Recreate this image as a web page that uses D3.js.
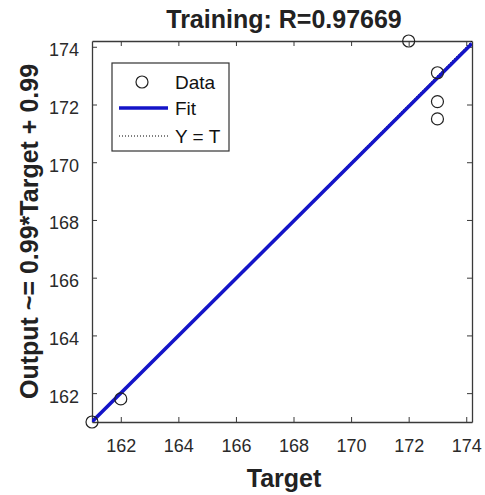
<!DOCTYPE html>
<html><head><meta charset="utf-8">
<script src="https://cdn.jsdelivr.net/npm/d3@7"></script>
<style>body{margin:0;background:#fff}svg{display:block}</style>
</head><body>
<script>
const targets = [161, 162, 172, 173, 173, 173];
const outputs = [161, 161.8, 174.2, 173.1, 172.1, 171.5];
const tickValues = [162, 164, 166, 168, 170, 172, 174];
const domainLim = [161, 174.2];
const titleText = "Training: R=0.97669";
const xLabel = "Target";
const yLabel = "Output ~= 0.99*Target + 0.99";
const legendItems = ["Data", "Fit", "Y = T"];

// least squares fit
const mx = d3.mean(targets), my = d3.mean(outputs);
const sxy = d3.sum(targets.map((t,i)=>(t-mx)*(outputs[i]-my)));
const sxx = d3.sum(targets.map(t=>(t-mx)*(t-mx)));
const slope = sxy/sxx, intercept = my - slope*mx;

const W=485,H=495;
const m={l:92,r:13,t:41,b:73};
const svg=d3.select("body").append("svg").attr("width",W).attr("height",H);
const x=d3.scaleLinear().domain(domainLim).range([m.l,W-m.r]);
const y=d3.scaleLinear().domain(domainLim).range([H-m.b,m.t]);
const font="Liberation Sans, Arial, sans-serif";

svg.append("defs").append("clipPath").attr("id","clip").append("rect")
  .attr("x",m.l).attr("y",m.t).attr("width",W-m.l-m.r).attr("height",H-m.t-m.b);

// axes
const axCol="#3a3a3a";
const xb=svg.append("g").attr("transform",`translate(0,${H-m.b})`)
  .call(d3.axisBottom(x).tickValues(tickValues).tickSizeInner(-5).tickSizeOuter(0).tickPadding(17));
const xt=svg.append("g").attr("transform",`translate(0,${m.t})`)
  .call(d3.axisTop(x).tickValues(tickValues).tickSizeInner(-5).tickSizeOuter(0).tickFormat(""));
const yl=svg.append("g").attr("transform",`translate(${m.l},0)`)
  .call(d3.axisLeft(y).tickValues(tickValues).tickSizeInner(-5).tickSizeOuter(0).tickPadding(13));
const yr=svg.append("g").attr("transform",`translate(${W-m.r},0)`)
  .call(d3.axisRight(y).tickValues(tickValues).tickSizeInner(-5).tickSizeOuter(0).tickFormat(""));
[xb,xt,yl,yr].forEach(g=>{
  g.selectAll("path").attr("stroke",axCol).attr("stroke-width",1.3);
  g.selectAll("line").attr("stroke",axCol);
  g.selectAll("text").attr("fill","#2a2a2a").attr("font-family",font).attr("font-size",18);
});
yl.selectAll("text").attr("dy","0.5em");

const plot=svg.append("g").attr("clip-path","url(#clip)");
// Y = T dotted
plot.append("line")
  .attr("x1",x(domainLim[0])).attr("y1",y(domainLim[0]))
  .attr("x2",x(domainLim[1])).attr("y2",y(domainLim[1]))
  .attr("stroke","#000").attr("stroke-dasharray","1,2").attr("stroke-width",1);
// fit line
plot.append("line")
  .attr("x1",x(domainLim[0])).attr("y1",y(slope*domainLim[0]+intercept))
  .attr("x2",x(domainLim[1])).attr("y2",y(slope*domainLim[1]+intercept))
  .attr("stroke","#1414c8").attr("stroke-width",3.5);
// data
svg.append("g").selectAll("circle").data(targets).join("circle")
  .attr("cx",(d)=>x(d)).attr("cy",(d,i)=>y(outputs[i])).attr("r",6)
  .attr("fill","none").attr("stroke","#222").attr("stroke-width",1.2);

// legend
const lg=svg.append("g");
lg.append("rect").attr("x",112).attr("y",63).attr("width",117).attr("height",88)
  .attr("fill","#fff").attr("stroke","#333").attr("stroke-width",1.2);
const ly=[82,108,136];
lg.append("circle").attr("cx",142).attr("cy",ly[0]).attr("r",6).attr("fill","none").attr("stroke","#222").attr("stroke-width",1.2);
lg.append("line").attr("x1",119).attr("x2",168).attr("y1",ly[1]).attr("y2",ly[1]).attr("stroke","#1414c8").attr("stroke-width",3.5);
lg.append("line").attr("x1",119).attr("x2",168).attr("y1",ly[2]).attr("y2",ly[2]).attr("stroke","#000").attr("stroke-dasharray","1,2");
lg.selectAll("text.l").data(legendItems).join("text").attr("class","l")
  .attr("x",175).attr("y",(d,i)=>ly[i]).attr("dy","0.36em")
  .attr("font-family",font).attr("font-size",19).attr("fill","#111").text(d=>d);

// titles
const cx=(m.l+W-m.r)/2+2;
svg.append("text").attr("x",cx).attr("y",28).attr("text-anchor","middle")
  .attr("font-family",font).attr("font-weight","bold").attr("font-size",25).attr("fill","#222").text(titleText);
svg.append("text").attr("x",cx).attr("y",487).attr("text-anchor","middle")
  .attr("font-family",font).attr("font-weight","bold").attr("font-size",25).attr("fill","#222").text(xLabel);
svg.append("text").attr("transform",`translate(38,${(m.t+H-m.b)/2}) rotate(-90)`).attr("text-anchor","middle")
  .attr("font-family",font).attr("font-weight","bold").attr("font-size",25).attr("fill","#222").text(yLabel);
</script>
</body></html>
